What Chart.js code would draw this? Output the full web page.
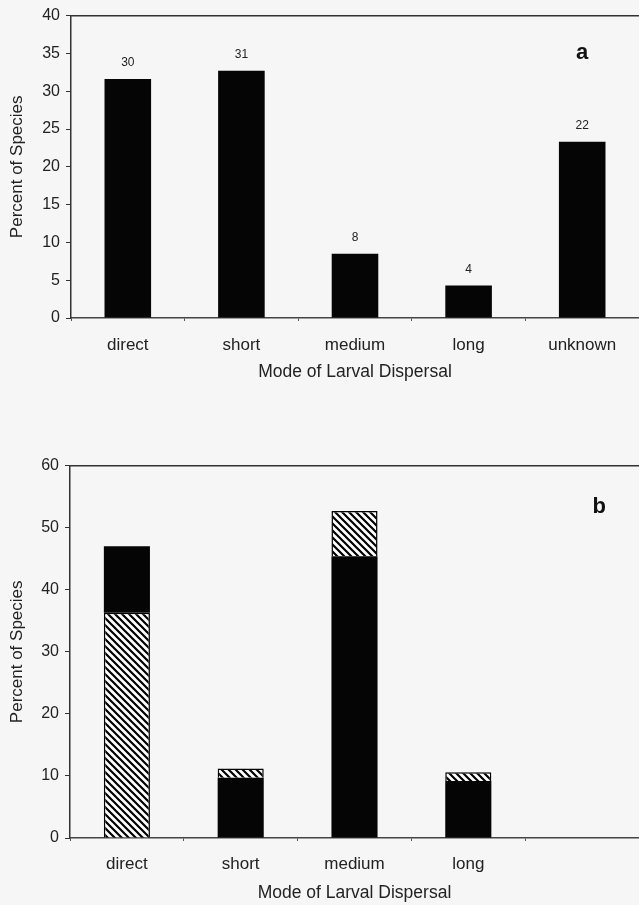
<!DOCTYPE html>
<html>
<head>
<meta charset="utf-8">
<script src="https://cdn.jsdelivr.net/npm/chart.js@4"></script>
<style>
  body { margin: 0; background: #f6f6f7; width: 639px; height: 905px; position: relative; overflow: hidden; }
  canvas { position: absolute; left: 0; }
  #chartA { top: 0; }
  #chartB { top: 450px; }
</style>
</head>
<body>
<canvas id="chartA" width="639" height="390"></canvas>
<canvas id="chartB" width="639" height="455"></canvas>
<script>
// panel a
const catsA = ["direct", "short", "medium", "long", "unknown"];
const percentA = [31.6, 32.7, 8.5, 4.3, 23.3];
const countsA = ["30", "31", "8", "4", "22"];

// panel b
const catsB = ["direct", "short", "medium", "long", ""];
const hatchLowB = [36.3, null, null, null, null];
const blackB = [10.7, 9.7, 45.4, 9.2, null];
const hatchTopB = [null, 1.5, 7.3, 1.4, null];

const fontName = "'Liberation Sans', Arial, sans-serif";
const ink = "#222";

// diagonal hatch
function makeHatch() {
  const n = 7;
  const c = document.createElement("canvas");
  c.width = n;
  c.height = n;
  const g = c.getContext("2d");
  g.fillStyle = "#fff";
  g.fillRect(0, 0, n, n);
  g.strokeStyle = "#000";
  g.lineWidth = 2.2;
  g.beginPath();
  g.moveTo(-1, -1); g.lineTo(n + 1, n + 1);
  g.moveTo(-n - 1, -1); g.lineTo(1, n + 1);
  g.moveTo(n - 1, -1); g.lineTo(2 * n + 1, n + 1);
  g.stroke();
  return g.createPattern(c, "repeat");
}
const hatch = makeHatch();

// numbers over the bars
const countLabels = {
  id: "countLabels",
  afterDatasetsDraw(chart) {
    const ctx = chart.ctx;
    const meta = chart.getDatasetMeta(0);
    ctx.save();
    ctx.fillStyle = ink;
    ctx.font = "12px " + fontName;
    ctx.textAlign = "center";
    ctx.textBaseline = "middle";
    meta.data.forEach((bar, i) => {
      ctx.fillText(countsA[i], bar.x, bar.y - 16);
    });
    ctx.restore();
  }
};

// panel letter
function panelLetter(letter, idx, val, dx) {
  return {
    id: "letter" + letter,
    afterDraw(chart) {
      const ctx = chart.ctx;
      ctx.save();
      ctx.fillStyle = "#111";
      ctx.font = "bold 22px " + fontName;
      ctx.textAlign = "center";
      ctx.textBaseline = "middle";
      ctx.fillText(letter, chart.scales.x.getPixelForValue(idx) + dx, chart.scales.y.getPixelForValue(val));
      ctx.restore();
    }
  };
}

function axes(cats, yMax, yStep, yWidth, xHeight, tickPad, titlePad, stacked) {
  return {
    x: {
      type: "category",
      labels: cats,
      stacked: stacked,
      grid: { display: true, drawOnChartArea: false, drawTicks: true, tickLength: 3, color: "#555", offset: true },
      border: { display: true, color: "#444", width: 1.5 },
      ticks: { color: ink, font: { size: 17, family: fontName }, padding: tickPad, maxRotation: 0 },
      title: { display: true, text: "Mode of Larval Dispersal", color: ink, font: { size: 17.5, family: fontName }, padding: { top: 0, bottom: titlePad } },
      afterFit(s) { s.height = xHeight; }
    },
    x2: {
      type: "category",
      labels: cats,
      position: "top",
      grid: { display: false },
      border: { display: true, color: "#333", width: 1.5 },
      ticks: { display: false },
      afterFit(s) { s.height = 14; }
    },
    y: {
      min: 0,
      max: yMax,
      stacked: stacked,
      ticks: { stepSize: yStep, color: ink, font: { size: 16, family: fontName }, padding: 6 },
      grid: { display: true, drawOnChartArea: false, drawTicks: true, tickLength: 5, color: "#333" },
      border: { display: true, color: "#333", width: 1.5 },
      title: { display: true, text: "Percent of Species", color: ink, font: { size: 17, family: fontName }, padding: { top: 7, bottom: 0 } },
      afterFit(s) { s.width = yWidth; }
    }
  };
}

new Chart(document.getElementById("chartA"), {
  type: "bar",
  data: {
    labels: catsA,
    datasets: [{
      data: percentA,
      backgroundColor: "#050505",
      borderWidth: 0,
      categoryPercentage: 1,
      barPercentage: 0.41
    }]
  },
  options: {
    responsive: false,
    animation: false,
    layout: { padding: 0 },
    plugins: { legend: { display: false }, tooltip: { enabled: false } },
    scales: axes(catsA, 40, 5, 71, 72, 14, 7, false)
  },
  plugins: [countLabels, panelLetter("a", 4, 35, 0)]
});

new Chart(document.getElementById("chartB"), {
  type: "bar",
  data: {
    labels: catsB,
    datasets: [
      { data: hatchLowB, backgroundColor: hatch, borderColor: "#000", borderWidth: 1.5, categoryPercentage: 1, barPercentage: 0.405 },
      { data: blackB, backgroundColor: "#050505", borderWidth: 0, categoryPercentage: 1, barPercentage: 0.405 },
      { data: hatchTopB, backgroundColor: hatch, borderColor: "#000", borderWidth: 1.5, categoryPercentage: 1, barPercentage: 0.405 }
    ]
  },
  options: {
    responsive: false,
    animation: false,
    layout: { padding: 0 },
    plugins: { legend: { display: false }, tooltip: { enabled: false } },
    scales: axes(catsB, 60, 10, 70, 67, 13, 1, true)
  },
  plugins: [panelLetter("b", 4, 53.4, 17)]
});
</script>
</body>
</html>
